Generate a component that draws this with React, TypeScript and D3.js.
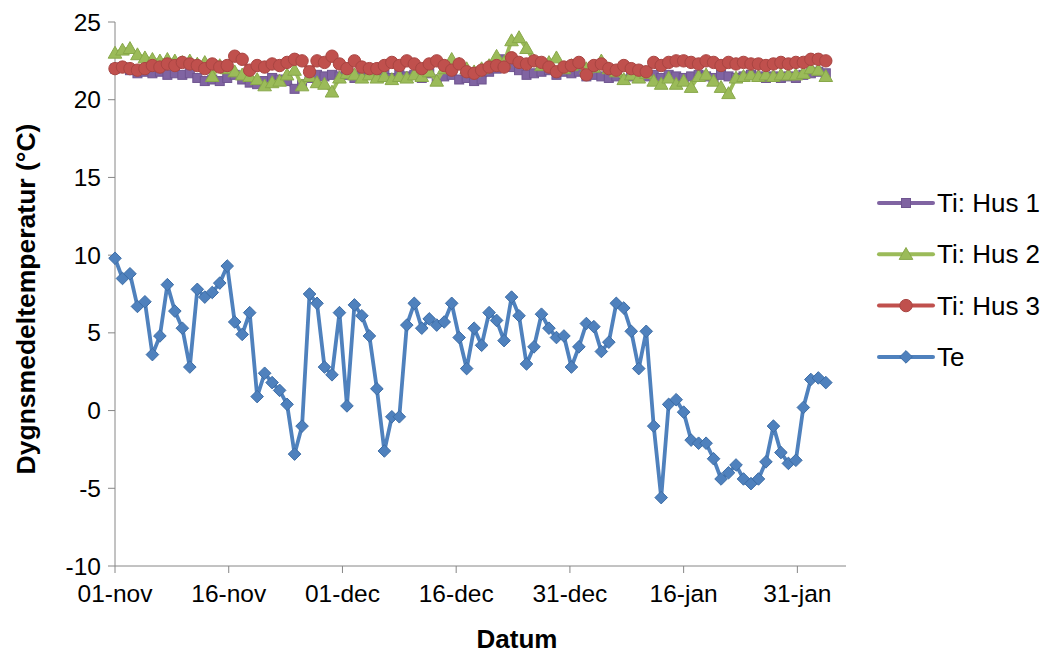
import React from "react";
import * as d3 from "d3";

const tickLabels = ["01-nov", "16-nov", "01-dec", "16-dec", "31-dec", "16-jan", "31-jan"];
const tickIndex = [0, 15.2, 30.4, 45.6, 60.8, 76, 91.2];
const yTicks = [-10, -5, 0, 5, 10, 15, 20, 25];

const hus1 = [
  22.0, 22.1, 21.9, 21.7, 21.8, 21.7, 21.8, 21.6, 21.7, 21.6,
  21.7, 21.4, 21.2, 21.3, 21.2, 21.4, 21.6, 21.3, 21.1, 21.0,
  21.2, 21.4, 21.3, 21.2, 20.7, 21.0, 21.4, 21.6, 21.5, 21.6,
  21.5, 21.6, 21.4, 21.6, 21.7, 21.5, 21.6, 21.4, 21.6, 21.5,
  21.6, 21.4, 21.7, 21.3, 21.5, 21.6, 21.3, 21.4, 21.2, 21.3,
  21.8, 22.0, 22.6, 22.1, 21.9, 21.6, 21.7, 21.8, 21.9, 21.6,
  21.8, 21.7, 21.8, 21.5, 21.6, 21.5, 21.4, 21.5, 21.3, 21.5,
  21.4, 21.5, 21.6, 21.4, 21.6, 21.5, 21.4, 21.5, 21.6, 21.5,
  21.4, 21.6, 21.5, 21.4, 21.5, 21.6, 21.5, 21.4, 21.5, 21.4,
  21.5, 21.4, 21.6, 21.7, 21.8, 21.7,
];

const hus2 = [
  23.0, 23.2, 23.3, 22.9, 22.7, 22.6, 22.5, 22.6, 22.5, 22.4,
  22.5, 22.3, 22.4, 21.5, 22.2, 22.0, 21.8, 21.6, 21.5, 21.3,
  20.9, 21.1, 21.2, 21.6, 21.9, 20.9, 21.5, 21.1, 21.0, 20.5,
  21.4, 21.7, 21.6, 21.4, 21.6, 21.4, 21.5, 21.3, 21.5, 21.4,
  21.6, 21.5, 21.8, 21.2, 22.0, 22.6, 22.3, 22.0, 21.8, 22.0,
  22.2, 22.8, 22.4, 23.8, 24.0, 23.3, 22.5, 22.2, 22.4, 22.7,
  22.0, 22.2, 22.3, 22.0, 22.1, 22.5, 22.0, 21.8, 21.3, 21.6,
  21.4, 21.7, 21.2, 21.0, 21.4, 21.0, 21.2, 20.8, 21.5, 21.6,
  21.2, 20.8, 20.4, 21.4, 21.5, 21.6, 21.5, 21.6, 21.5, 21.6,
  21.6, 21.6, 21.7, 22.0, 21.9, 21.5,
];

const hus3 = [
  22.0, 22.1, 22.0, 21.9, 22.0, 22.2, 22.1, 22.3, 22.2, 22.4,
  22.3, 22.2, 22.0, 22.3, 22.1, 22.2, 22.8, 22.6, 21.9, 22.2,
  22.1, 22.3, 22.2, 22.4, 22.6, 22.5, 21.8, 22.5, 22.4, 22.8,
  22.3, 22.0, 22.5, 22.1, 22.0, 22.0, 22.2, 22.4, 22.2, 22.5,
  22.3, 22.0, 22.3, 22.5, 22.2, 21.9, 22.3, 21.8, 21.7, 21.9,
  22.1, 22.2, 22.1, 22.7, 22.4, 22.3, 22.5, 22.4, 22.1, 21.8,
  22.1, 22.2, 22.4, 21.6, 22.2, 22.3, 22.0, 21.9, 22.2, 22.0,
  21.9, 21.8, 22.4, 22.2, 22.4, 22.5, 22.5, 22.4, 22.3, 22.5,
  22.4, 22.2, 22.4, 22.3, 22.4, 22.3, 22.3, 22.2, 22.3, 22.4,
  22.3, 22.4, 22.4, 22.6, 22.6, 22.5,
];

const te = [
  9.8, 8.5, 8.8, 6.7, 7.0, 3.6, 4.8, 8.1, 6.4, 5.3,
  2.8, 7.8, 7.3, 7.6, 8.2, 9.3, 5.7, 4.9, 6.3, 0.9,
  2.4, 1.8, 1.3, 0.4, -2.8, -1.0, 7.5, 6.9, 2.8, 2.3,
  6.3, 0.3, 6.8, 6.1, 4.8, 1.4, -2.6, -0.4, -0.4, 5.5,
  6.9, 5.3, 5.9, 5.5, 5.7, 6.9, 4.7, 2.7, 5.3, 4.2,
  6.3, 5.8, 4.5, 7.3, 6.1, 3.0, 4.1, 6.2, 5.3, 4.7,
  4.8, 2.8, 4.1, 5.6, 5.4, 3.8, 4.4, 6.9, 6.6, 5.1,
  2.7, 5.1, -1.0, -5.6, 0.4, 0.7, -0.1, -1.9, -2.1, -2.1,
  -3.1, -4.4, -4.0, -3.5, -4.4, -4.7, -4.4, -3.3, -1.0, -2.7,
  -3.4, -3.2, 0.2, 2.0, 2.1, 1.8,
];

const seriesNames = ["Ti: Hus 1", "Ti: Hus 2", "Ti: Hus 3", "Te"];

type Kind = "square" | "triangle" | "circle" | "diamond";
const series: { name: string; values: number[]; color: string; stroke: string; kind: Kind }[] = [
  { name: seriesNames[0], values: hus1, color: "#8064A2", stroke: "#6F5590", kind: "square" },
  { name: seriesNames[1], values: hus2, color: "#9BBB59", stroke: "#88A84A", kind: "triangle" },
  { name: seriesNames[2], values: hus3, color: "#C0504D", stroke: "#A94542", kind: "circle" },
  { name: seriesNames[3], values: te, color: "#4F81BD", stroke: "#3D6DA6", kind: "diamond" },
];

const FONT = "'Liberation Sans', Arial, sans-serif";

function Marker({ kind, x, y, fill, stroke }: { kind: Kind; x: number; y: number; fill: string; stroke: string }) {
  if (kind === "square") {
    return <rect x={x - 4.5} y={y - 4.5} width={9} height={9} fill={fill} stroke={stroke} strokeWidth={1} />;
  }
  if (kind === "triangle") {
    const s = 6.8;
    return (
      <path
        d={`M${x},${y - s} L${x + s},${y + s * 0.75} L${x - s},${y + s * 0.75} Z`}
        fill={fill}
        stroke={stroke}
        strokeWidth={1}
      />
    );
  }
  if (kind === "circle") {
    return <circle cx={x} cy={y} r={6.2} fill={fill} stroke={stroke} strokeWidth={1} />;
  }
  const s = 6.3;
  return (
    <path
      d={`M${x},${y - s} L${x + s},${y} L${x},${y + s} L${x - s},${y} Z`}
      fill={fill}
      stroke={stroke}
      strokeWidth={1}
    />
  );
}

export default function App() {
  const W = 1046;
  const H = 655;
  const left = 115;
  const right = 846;
  const top = 22;
  const bottom = 566;

  const x = d3.scaleLinear().domain([0, 97.7]).range([left, right]);
  const y = d3.scaleLinear().domain([-10, 25]).range([bottom, top]);

  const line = d3
    .line<number>()
    .x((_, i) => x(i))
    .y((d) => y(d));

  const axisColor = "#868686";

  return (
    <svg
      width={W}
      height={H}
      style={{ position: "absolute", left: 0, top: 0, background: "#fff" }}
      fontFamily={FONT}
    >
      {/* axes */}
      <line x1={left} x2={left} y1={top} y2={bottom} stroke={axisColor} strokeWidth={1} />
      <line x1={left} x2={right} y1={bottom} y2={bottom} stroke={axisColor} strokeWidth={1} />
      {yTicks.map((t) => (
        <g key={t}>
          <line x1={left - 7} x2={left} y1={y(t)} y2={y(t)} stroke={axisColor} />
          <text x={left - 14} y={y(t)} dy="0.35em" textAnchor="end" fontSize={24.5} fill="#000">
            {t}
          </text>
        </g>
      ))}
      {tickIndex.map((t, i) => (
        <g key={t}>
          <line x1={x(t)} x2={x(t)} y1={bottom} y2={bottom + 7} stroke={axisColor} />
          <text x={x(t)} y={bottom + 36} textAnchor="middle" fontSize={24.5} fill="#000">
            {tickLabels[i]}
          </text>
        </g>
      ))}
      <text
        transform={`translate(35, ${(top + bottom) / 2 + 5}) rotate(-90)`}
        textAnchor="middle"
        fontSize={26.5}
        fontWeight="bold"
        fill="#000"
      >
        Dygnsmedeltemperatur (°C)
      </text>
      <text x={517} y={648} textAnchor="middle" fontSize={26} fontWeight="bold" fill="#000">
        Datum
      </text>

      {/* series */}
      {series.map((s) => (
        <g key={s.name}>
          <path d={line(s.values) || ""} fill="none" stroke={s.color} strokeWidth={3.8} strokeLinejoin="round" />
          {s.values.map((v, i) => (
            <Marker key={i} kind={s.kind} x={x(i)} y={y(v)} fill={s.color} stroke={s.stroke} />
          ))}
        </g>
      ))}

      {/* legend */}
      {series.map((s, i) => {
        const ly = 203 + i * 51.3;
        return (
          <g key={s.name}>
            <line x1={879} x2={933} y1={ly} y2={ly} stroke={s.color} strokeWidth={4} strokeLinecap="round" />
            <Marker kind={s.kind} x={906} y={ly} fill={s.color} stroke={s.stroke} />
            <text x={937} y={ly} dy="0.35em" fontSize={26} fill="#000">
              {s.name}
            </text>
          </g>
        );
      })}
    </svg>
  );
}
